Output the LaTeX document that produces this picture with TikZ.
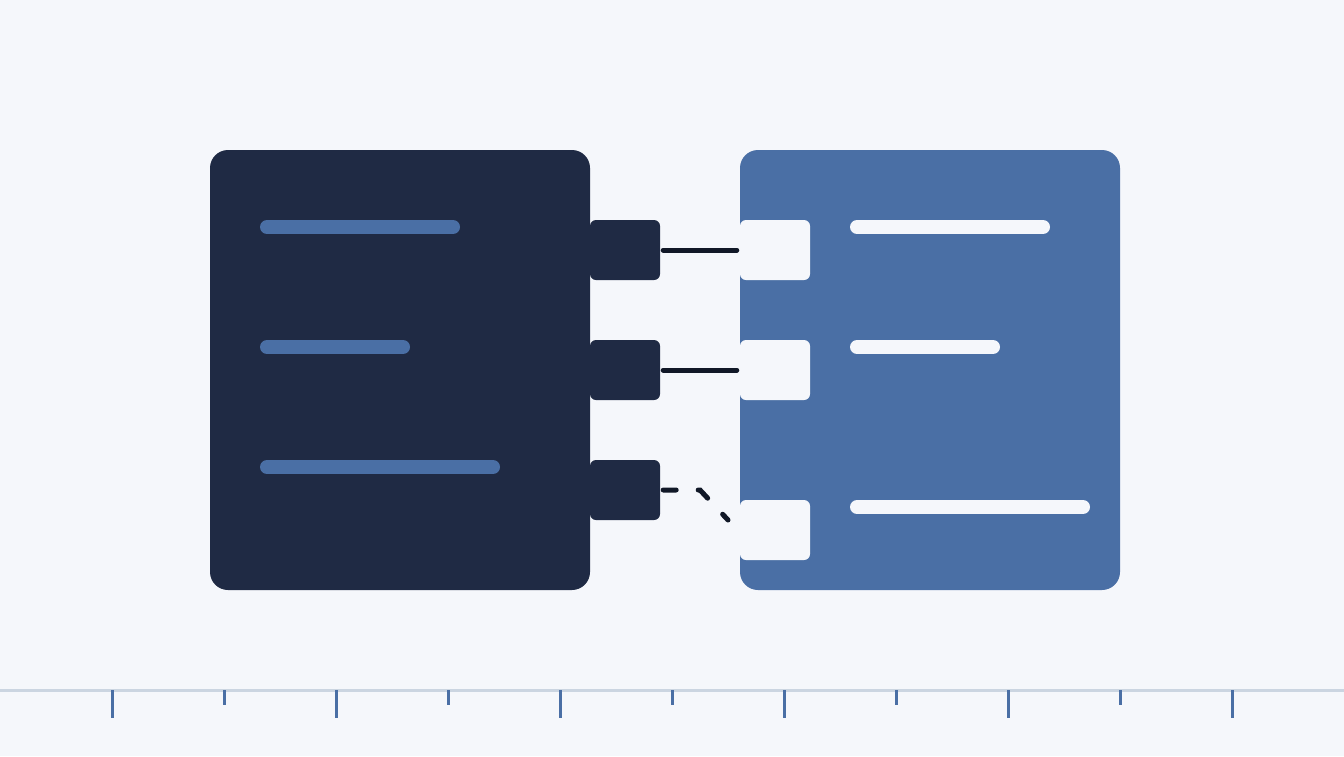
\documentclass[tikz,border=0pt]{standalone}
\usetikzlibrary{positioning}
\definecolor{bgc}{HTML}{F5F7FB}
\definecolor{navy}{HTML}{1F2A44}
\definecolor{steel}{HTML}{4A6FA5}
\definecolor{ink}{HTML}{111827}
\definecolor{rule}{HTML}{CBD5E1}
\tikzset{
  panel/.style={rectangle,rounded corners=18pt,minimum width=380pt,minimum height=440pt,inner sep=0pt},
  port/.style={rectangle,rounded corners=6pt,minimum width=70pt,minimum height=60pt,inner sep=0pt},
  bar/.style={line width=14pt,line cap=round},
  wire/.style={line width=5pt,line cap=round,ink},
  tick/.style={line width=3pt,steel}
}
\begin{document}
\begin{tikzpicture}[x=1pt,y=-1pt]
  \fill[bgc] (0,0) rectangle (1344,756);
  \useasboundingbox (0,0) rectangle (1344,756);
  % panels
  \node[panel,fill=navy] (left) at (400,370) {};
  \node[panel,fill=steel] (right) at (930,370) {};
  % label bars
  \draw[bar,steel] (267,227) -- (453,227);
  \draw[bar,steel] (267,347) -- (403,347);
  \draw[bar,steel] (267,467) -- (493,467);
  \draw[bar,bgc] (857,227) -- (1043,227);
  \draw[bar,bgc] (857,347) -- (993,347);
  \draw[bar,bgc] (857,507) -- (1083,507);
  % ports
  \node[port,fill=navy] (lp1) at (625,250) {};
  \node[port,fill=navy] (lp2) at (625,370) {};
  \node[port,fill=navy] (lp3) at (625,490) {};
  \node[port,fill=bgc] (rp1) at (775,250) {};
  \node[port,fill=bgc] (rp2) at (775,370) {};
  \node[port,fill=bgc] (rp3) at (775,530) {};
  % connectors
  \draw[wire,shorten <=3pt,shorten >=3pt] (lp1.east) -- (rp1.west);
  \draw[wire,shorten <=3pt,shorten >=3pt] (lp2.east) -- (rp2.west);
  \coordinate (bend) at (700,490);
  \coordinate (gap) at (728,520);
  \draw[wire,dash pattern=on 13pt off 22pt,shorten <=3pt] (lp3.east) -- (bend) -- (gap);
  % ruler
  \draw[line width=3pt,rule] (0,690) -- (1344,690);
  \foreach \i in {1,...,11}{
    \ifodd\i
      \draw[tick] (112*\i,690) -- (112*\i,718);
    \else
      \draw[tick] (112*\i,690) -- (112*\i,705);
    \fi
  }
\end{tikzpicture}
\end{document}
